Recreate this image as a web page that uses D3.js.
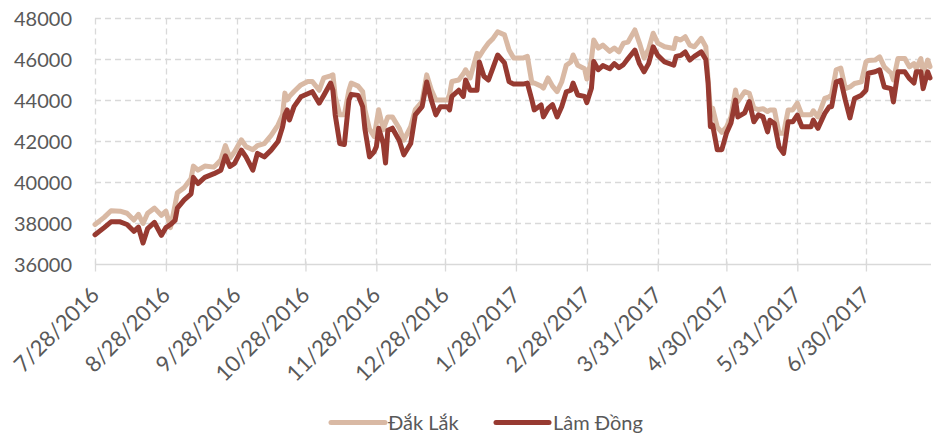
<!DOCTYPE html>
<html><head><meta charset="utf-8">
<script src="https://cdn.jsdelivr.net/npm/d3@7"></script>
<style>body{margin:0;background:#fff}svg text{font-family:Lato,"Open Sans",sans-serif;fill:#595959}</style>
</head><body><svg id="c" width="936" height="436"></svg>
<script>
const dates = ["2016-07-28","2016-08-01","2016-08-04","2016-08-08","2016-08-11","2016-08-14","2016-08-16","2016-08-18","2016-08-20","2016-08-23","2016-08-26","2016-08-28","2016-08-30","2016-09-01","2016-09-02","2016-09-05","2016-09-08","2016-09-09","2016-09-11","2016-09-14","2016-09-18","2016-09-21","2016-09-23","2016-09-25","2016-09-27","2016-09-30","2016-10-02","2016-10-05","2016-10-07","2016-10-10","2016-10-13","2016-10-16","2016-10-18","2016-10-19","2016-10-20","2016-10-21","2016-10-23","2016-10-26","2016-10-29","2016-10-31","2016-11-03","2016-11-05","2016-11-08","2016-11-09","2016-11-10","2016-11-12","2016-11-14","2016-11-16","2016-11-17","2016-11-20","2016-11-22","2016-11-23","2016-11-25","2016-11-27","2016-11-28","2016-11-29","2016-12-01","2016-12-02","2016-12-03","2016-12-05","2016-12-08","2016-12-10","2016-12-13","2016-12-15","2016-12-18","2016-12-20","2016-12-22","2016-12-24","2016-12-26","2016-12-29","2016-12-30","2016-12-31","2017-01-03","2017-01-05","2017-01-06","2017-01-08","2017-01-11","2017-01-12","2017-01-14","2017-01-16","2017-01-18","2017-01-20","2017-01-23","2017-01-25","2017-01-27","2017-01-31","2017-02-02","2017-02-04","2017-02-05","2017-02-08","2017-02-09","2017-02-11","2017-02-13","2017-02-15","2017-02-17","2017-02-19","2017-02-21","2017-02-22","2017-02-24","2017-02-27","2017-02-28","2017-03-02","2017-03-03","2017-03-05","2017-03-07","2017-03-10","2017-03-12","2017-03-14","2017-03-16","2017-03-18","2017-03-21","2017-03-23","2017-03-25","2017-03-27","2017-03-29","2017-03-31","2017-04-03","2017-04-07","2017-04-08","2017-04-10","2017-04-12","2017-04-14","2017-04-16","2017-04-19","2017-04-21","2017-04-22","2017-04-23","2017-04-24","2017-04-26","2017-04-28","2017-04-30","2017-05-02","2017-05-04","2017-05-05","2017-05-08","2017-05-10","2017-05-12","2017-05-14","2017-05-16","2017-05-18","2017-05-19","2017-05-21","2017-05-23","2017-05-25","2017-05-27","2017-05-29","2017-05-31","2017-06-02","2017-06-06","2017-06-07","2017-06-09","2017-06-12","2017-06-14","2017-06-15","2017-06-17","2017-06-19","2017-06-21","2017-06-23","2017-06-25","2017-06-28","2017-06-30","2017-07-01","2017-07-04","2017-07-06","2017-07-08","2017-07-11","2017-07-12","2017-07-14","2017-07-17","2017-07-19","2017-07-21","2017-07-22","2017-07-24","2017-07-25","2017-07-27","2017-07-28"];
const dakLak = [37950,38300,38620,38600,38500,38170,38450,38000,38500,38750,38400,38600,37800,38900,39500,39750,40200,40800,40600,40800,40750,41100,41800,41200,41500,42080,41750,41600,41800,41900,42300,42800,43300,44360,44030,44200,44440,44760,44930,44930,44500,45100,45200,45250,44200,43300,43300,44500,44850,44700,44430,43550,42600,42250,42900,43550,42570,42900,43200,43200,42650,42070,42720,43550,43950,45250,44520,44020,44020,44020,44300,44930,45000,45300,45500,45100,46300,46150,46500,46800,47030,47350,47200,46460,46070,46070,46150,44850,44850,44700,44600,45100,44700,44430,44900,45720,45880,46220,45720,45550,45050,46000,46950,46560,46700,46400,46560,46370,46800,46850,47440,46800,46070,46500,47280,46800,46620,46540,47030,46950,47110,46700,46620,47030,46620,45000,43540,43620,42700,42450,42700,43200,44510,43950,44430,44350,43630,43560,43600,43460,43540,43540,42400,42400,43540,43540,43870,43300,43300,43500,43200,44100,44180,44300,45500,45580,44580,44660,44830,44910,45880,45950,45970,46130,45640,45330,45000,46050,46050,45640,45800,45560,46050,45330,45970,45650];
const lamDong = [37450,37800,38080,38080,37950,37620,37820,37050,37750,38050,37420,37800,37950,38150,38750,39150,39450,40250,39950,40250,40430,40600,41300,40780,40930,41580,41250,40600,41420,41250,41580,42000,42720,43300,43540,43050,43700,44180,44330,44430,43870,44250,44850,44500,43300,41900,41850,44020,44300,44250,43700,42600,41250,41500,41750,42650,41900,40950,42550,42650,42050,41350,41900,43300,43700,44900,44020,43300,43700,43700,43540,44200,44500,44200,45000,44500,44500,45880,45180,45000,45600,46220,45830,44920,44800,44800,44850,44020,43540,43780,43200,43600,43800,43200,43700,44420,44500,44850,44270,44200,43900,44600,45900,45500,45700,45550,45800,45600,45750,46050,46460,45800,45400,45800,46620,46200,45880,45720,46150,46200,46370,45970,46150,46370,46000,44850,42720,42800,41600,41600,42400,42900,44020,43200,43400,43950,42960,43300,43200,42470,43040,42880,41740,41420,42960,42960,43290,42720,42720,43040,42640,43370,43700,43700,44910,44980,44020,43150,44100,44260,44500,45330,45400,45500,44660,44580,43930,45400,45400,45070,44850,45400,45400,44580,45400,45100];
const yTicks = [36000,38000,40000,42000,44000,46000,48000];
const xTickLabels = ["7/28/2016","8/28/2016","9/28/2016","10/28/2016","11/28/2016","12/28/2016","1/28/2017","2/28/2017","3/31/2017","4/30/2017","5/31/2017","6/30/2017"];
const seriesNames = ["Đắk Lắk","Lâm Đồng"];
const seriesColors = ["#d9b9a4","#973a31"];

const svg = d3.select("#c");
const parseISO = d3.timeParse("%Y-%m-%d");
const parseMDY = d3.timeParse("%m/%d/%Y");
const x = d3.scaleTime().domain([parseISO("2016-07-28"), parseISO("2017-07-28")]).range([95, 930]);
const y = d3.scaleLinear().domain([36000, 48000]).range([264.5, 18.5]);
const tickDates = xTickLabels.map(parseMDY);

// horizontal grid
svg.append("g").selectAll("line").data(yTicks.filter(v => v > 36000)).join("line")
  .attr("x1", 95).attr("x2", 931).attr("y1", d => y(d)).attr("y2", d => y(d))
  .attr("stroke", "#d9d9d9").attr("stroke-width", 1.3).attr("stroke-dasharray", "6,4");
// vertical grid
svg.append("g").selectAll("line").data(tickDates).join("line")
  .attr("x1", d => Math.round(x(d)) + 0.5).attr("x2", d => Math.round(x(d)) + 0.5)
  .attr("y1", y(48000)).attr("y2", y(36000))
  .attr("stroke", "#d9d9d9").attr("stroke-width", 1.3).attr("stroke-dasharray", "6,4");

// x axis
const xAxis = d3.axisBottom(x).tickValues(tickDates).tickSize(7).tickSizeOuter(0).tickFormat((d, i) => xTickLabels[i]);
const gx = svg.append("g").attr("transform", `translate(0,${y(36000)})`).call(xAxis);
gx.select(".domain").attr("stroke", "#d9d9d9").attr("stroke-width", 1.5).attr("d", "M95,0H931");
gx.selectAll(".tick line").attr("stroke", "#d9d9d9").attr("stroke-width", 1.3).attr("y1", -3);
gx.selectAll(".tick text").attr("font-size", 22).attr("text-anchor", "end")
  .attr("dy", null).attr("y", null)
  .attr("transform", "translate(5,32) rotate(-45)");

// y axis labels
const yAxis = d3.axisLeft(y).tickValues(yTicks).tickSize(0).tickPadding(0).tickFormat(d3.format("d"));
const gy = svg.append("g").attr("transform", "translate(72,0)").call(yAxis);
gy.select(".domain").remove();
gy.selectAll(".tick text").attr("font-size", 20).attr("dy", "0.36em");

// lines
const line = d3.line().x((d, i) => x(parseISO(dates[i]))).y(d => y(d)).curve(d3.curveLinear);
[dakLak, lamDong].forEach((s, k) => {
  svg.append("path").datum(s).attr("d", line).attr("fill", "none")
    .attr("stroke", seriesColors[k]).attr("stroke-width", 5)
    .attr("stroke-linejoin", "round").attr("stroke-linecap", "round");
});

// legend
const leg = [{x1: 331, x2: 385, tx: 388}, {x1: 496, x2: 549, tx: 553}];
leg.forEach((l, k) => {
  svg.append("line").attr("x1", l.x1).attr("x2", l.x2).attr("y1", 422.5).attr("y2", 422.5)
    .attr("stroke", seriesColors[k]).attr("stroke-width", 5).attr("stroke-linecap", "round");
  svg.append("text").attr("x", l.tx).attr("y", 422.5).attr("dy", "0.35em").attr("font-size", 20).text(seriesNames[k]);
});
</script></body></html>
